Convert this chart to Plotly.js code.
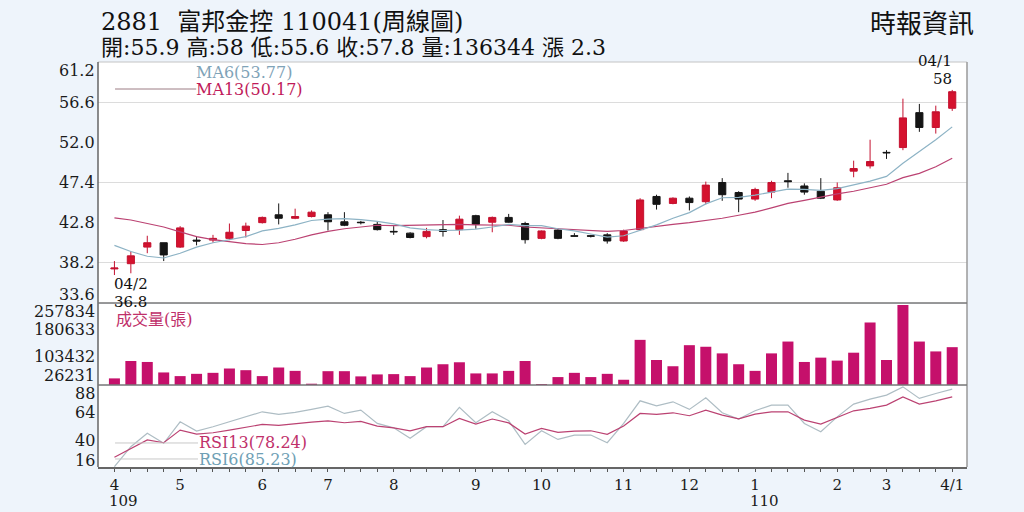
<!DOCTYPE html>
<html><head><meta charset="utf-8">
<script src="https://cdn.plot.ly/plotly-3.0.1.min.js"></script>
<style>html,body{margin:0;padding:0;background:#eef4fb}#chart{width:1024px;height:512px}</style>
</head><body><div id="chart"></div>
<script>
// ---- data (weekly candles) ----
const weeks = ["2020/04/02","2020/04/09","2020/04/16","2020/04/23","2020/04/30","2020/05/07","2020/05/14","2020/05/21","2020/05/28","2020/06/04",
"2020/06/11","2020/06/18","2020/06/25","2020/07/02","2020/07/09","2020/07/16","2020/07/23","2020/07/30","2020/08/06","2020/08/13",
"2020/08/20","2020/08/27","2020/09/03","2020/09/10","2020/09/17","2020/09/24","2020/10/01","2020/10/08","2020/10/15","2020/10/22",
"2020/10/29","2020/11/05","2020/11/12","2020/11/19","2020/11/26","2020/12/03","2020/12/10","2020/12/17","2020/12/24","2020/12/31",
"2021/01/07","2021/01/14","2021/01/21","2021/01/28","2021/02/04","2021/02/18","2021/02/25","2021/03/04","2021/03/11","2021/03/18",
"2021/03/25","2021/04/01"];
const openP  = [37.5,38.1,40.0,40.5,40.0,40.8,40.8,41.0,41.9,42.8,43.7,43.3,43.5,43.7,42.9,42.85,42.6,41.8,41.6,41.2,42.0,42.0,43.6,42.85,43.4,42.7,41.0,41.95,41.3,41.3,41.4,40.7,42.0,45.8,45.0,45.6,45.2,47.4,46.25,45.5,46.3,47.6,47.0,46.4,45.4,48.7,49.3,50.85,51.4,55.4,53.7,55.9];
const highP  = [38.4,39.5,41.3,40.5,42.4,41.2,41.4,42.7,42.8,43.5,45.0,44.4,44.2,44.0,44.0,43.0,42.9,42.4,41.7,42.2,43.1,43.6,43.7,43.5,43.8,42.9,41.9,42.1,41.6,41.4,41.6,42.0,45.6,46.0,45.7,45.8,47.5,47.9,46.4,46.8,47.6,48.5,47.3,47.9,47.4,49.9,52.3,51.1,57.0,56.4,56.2,58.0];
const lowP   = [36.8,37.0,39.3,38.4,39.9,40.2,40.5,40.8,41.1,42.7,42.6,43.2,43.4,41.9,42.4,42.6,41.9,41.4,41.0,41.0,41.2,41.4,42.1,41.7,42.8,40.4,40.9,40.9,41.2,41.1,40.4,40.6,41.9,44.3,44.9,44.2,44.9,45.3,44.0,45.3,45.6,46.8,46.0,45.5,45.3,48.0,49.0,50.1,51.1,53.2,53.0,55.6];
const closeP = [37.6,39.0,40.5,39.1,42.2,40.7,41.0,41.7,42.4,43.4,43.3,43.5,44.0,42.9,42.5,42.8,42.0,41.75,41.1,41.8,41.8,43.2,42.6,43.4,42.85,40.85,41.85,41.0,41.25,41.25,40.7,41.85,45.4,44.9,45.6,45.1,47.1,46.0,45.5,46.6,47.4,47.5,46.3,45.6,46.8,49.0,49.8,50.8,54.8,53.7,55.5,57.8];
const ma6  = [40.2,39.5,38.95,38.75,39.3,40.0,40.5,40.85,41.2,41.85,42.15,42.55,43.05,43.2,43.25,43.15,42.95,42.65,42.2,42.0,41.9,41.95,42.05,42.3,42.6,42.45,42.45,42.1,41.85,41.5,41.15,41.3,41.9,42.55,43.3,43.95,44.95,45.65,45.7,45.95,46.3,46.65,46.6,46.5,46.7,47.15,47.55,48.1,49.6,50.95,52.3,53.77];
const ma13 = [43.35,43.1,42.7,42.3,41.75,41.2,40.85,40.6,40.4,40.3,40.5,40.9,41.4,41.8,42.1,42.3,42.5,42.45,42.5,42.55,42.55,42.6,42.55,42.55,42.5,42.3,42.2,42.1,41.95,41.9,41.8,41.9,42.15,42.4,42.6,42.8,43.05,43.3,43.65,44.0,44.5,45.0,45.35,45.75,46.1,46.4,46.8,47.2,47.95,48.45,49.2,50.17];
const volume = [23800,86500,83000,45200,32000,40200,43800,59400,53400,32000,63000,50900,4600,49800,49800,31000,38100,39200,32000,63000,74800,81900,41700,41700,50900,86500,3600,28500,43800,28500,40200,18900,162700,90100,67600,143500,137800,113900,74800,50900,113900,156600,83000,98600,87900,116400,225300,90100,288400,156600,121000,136344];
const rsi13 = [23.1,31.3,38.9,36.4,47.9,44.3,45.5,47.9,50.4,53.1,52.2,54.0,55.2,56.4,54.6,55.9,51.6,50.0,47.3,51.0,51.0,58.5,53.4,58.0,54.5,44.3,49.5,45.8,47.0,47.3,44.0,51.6,63.1,62.2,63.7,61.0,66.1,61.6,58.2,62.5,64.6,64.6,57.0,53.4,59.4,65.5,67.7,70.7,78.2,71.6,74.6,78.24];
const rsi6  = [14.6,32.8,45.0,35.9,55.5,47.0,51.0,55.5,60.0,64.6,62.2,64.0,66.8,69.8,63.1,66.1,54.0,50.0,40.4,51.0,51.0,68.6,54.6,64.6,56.4,34.9,47.3,39.4,43.4,43.4,36.4,54.0,74.6,70.1,73.7,66.8,77.3,63.7,58.0,65.5,70.7,70.7,54.0,46.4,60.0,71.6,76.1,79.8,87.3,76.8,81.3,85.23];
const monthWeeks  = ["2020/04/02","2020/04/30","2020/06/04","2020/07/02","2020/07/30","2020/09/03","2020/10/01","2020/11/05","2020/12/03","2020/12/31","2021/02/04","2021/03/04","2021/04/01"];
const monthLabels = ["4","5","6","7","8","9","10","11","12","1","2","3","4/1"];
const yearWeeks  = ["2020/04/02","2020/12/31"];
const yearLabels = ["109","110"];
const priceTicks = [61.2,56.6,52.0,47.4,42.8,38.2,33.6];
const priceGrid  = [56.6,47.4,38.2];
const volTicks   = [257834,180633,103432,26231];
const rsiTicks   = [88,64,40,16];
const stockTitle = "2881\u00a0\u00a0富邦金控 110041(周線圖)";
const source = "時報資訊";
const hiDate = "04/1", loDate = "04/2";

// ---- build ----
const SERIF = "DejaVu Serif, Noto Sans CJK TC, serif";
const CJK = "Noto Sans CJK TC, DejaVu Serif, sans-serif";
const n = closeP.length - 1;
const fmt = v => String(Math.round(v*100)/100);
const info = "開:" + fmt(openP[n]) + " 高:" + fmt(highP[n]) + " 低:" + fmt(lowP[n]) + " 收:" + fmt(closeP[n]) +
             " 量:" + volume[n] + " 漲 " + (closeP[n]-closeP[n-1]).toFixed(1);
const hiIdx = highP.indexOf(Math.max(...highP));
const loIdx = lowP.indexOf(Math.min(...lowP));

const traces = [
  {type:'scatter', mode:'lines', x:weeks, y:ma13, line:{color:'#bb4272', width:1.2}, xaxis:'x', yaxis:'y', hoverinfo:'skip'},
  {type:'scatter', mode:'lines', x:weeks, y:ma6, line:{color:'#8db3c5', width:1.2}, xaxis:'x', yaxis:'y', hoverinfo:'skip'},
  {type:'scatter', mode:'lines', x:weeks, y:rsi6, line:{color:'#aebdc4', width:1.2}, xaxis:'x', yaxis:'y3', hoverinfo:'skip'},
  {type:'scatter', mode:'lines', x:weeks, y:rsi13, line:{color:'#bb4272', width:1.2}, xaxis:'x', yaxis:'y3', hoverinfo:'skip'},
  {type:'bar', x:weeks, y:volume, marker:{color:'#c5106b', line:{width:0}}, xaxis:'x', yaxis:'y2', hoverinfo:'skip'},
  {type:'candlestick', x:weeks, open:openP, high:highP, low:lowP, close:closeP, xaxis:'x', yaxis:'y',
   increasing:{line:{color:'#c41230', width:1}, fillcolor:'#d5122e'},
   decreasing:{line:{color:'#151515', width:1}, fillcolor:'#151515'},
   whiskerwidth:0, hoverinfo:'skip'}
];

const ann = [];
function txt(o){ ann.push(Object.assign({showarrow:false, borderpad:0}, o)); }
function ylab(ref, vals, fmtf, nudge){
  vals.forEach(v => txt({xref:'paper', yref:ref, x:0, y:v, xanchor:'right', yanchor:'middle', xshift:-2,
    yshift:(nudge[v]||0), text:fmtf(v), font:{family:SERIF, size:16, color:'#1a1a1a'}}));
}
ylab('y', priceTicks, v => v.toFixed(1), {61.2:-8, 33.6:8});
ylab('y2', volTicks, v => String(v), {257834:1.5, 180633:5, 26231:2});
ylab('y3', rsiTicks, v => String(v), {88:-7, 40:-2, 16:5});

txt({xref:'paper', yref:'paper', x:0, y:1.099, xanchor:'left', yanchor:'middle', xshift:2, text:stockTitle, font:{family:SERIF, size:24, color:'#111'}});
txt({xref:'paper', yref:'paper', x:0, y:1.035, xanchor:'left', yanchor:'middle', xshift:2, text:info, font:{family:SERIF, size:22, color:'#111'}});
txt({xref:'paper', yref:'paper', x:1.009, y:1.099, xanchor:'right', yanchor:'middle', text:source, font:{family:CJK, size:26, color:'#111'}});
txt({xref:'paper', yref:'paper', x:0.1116, y:0.9753, xanchor:'left', yanchor:'middle', text:'MA6(' + ma6[n].toFixed(2) + ')', font:{family:SERIF, size:16, color:'#7fa3b8'}});
txt({xref:'paper', yref:'paper', x:0.1116, y:0.9333, xanchor:'left', yanchor:'middle', text:'MA13(' + ma13[n].toFixed(2) + ')', font:{family:SERIF, size:16, color:'#c01a5a'}});
txt({xref:'paper', yref:'paper', x:0.0196, y:0.363, xanchor:'left', yanchor:'middle', text:'成交量(張)', font:{family:SERIF, size:16, color:'#c0306a'}});
txt({xref:'paper', yref:'paper', x:0.1151, y:0.0593, xanchor:'left', yanchor:'middle', text:'RSI13(' + rsi13[n].toFixed(2) + ')', font:{family:SERIF, size:16, color:'#c0306a'}});
txt({xref:'paper', yref:'paper', x:0.1151, y:0.0183, xanchor:'left', yanchor:'middle', text:'RSI6(' + rsi6[n].toFixed(2) + ')', font:{family:SERIF, size:16, color:'#6f9fb5'}});
// highest / lowest point labels
txt({xref:'x', yref:'y', x:weeks[hiIdx], y:highP[hiIdx], xanchor:'right', yanchor:'bottom', xshift:1, yshift:1,
  text:fmt(highP[hiIdx]), font:{family:SERIF, size:15, color:'#111'}});
txt({xref:'x', yref:'y', x:weeks[hiIdx], y:highP[hiIdx], xanchor:'right', yanchor:'bottom', xshift:1, yshift:19,
  text:hiDate, font:{family:SERIF, size:15, color:'#111'}});
txt({xref:'x', yref:'y', x:weeks[loIdx], y:lowP[loIdx], xanchor:'left', yanchor:'top', xshift:-1, yshift:1,
  text:loDate, font:{family:SERIF, size:15, color:'#111'}});
txt({xref:'x', yref:'y', x:weeks[loIdx], y:lowP[loIdx], xanchor:'left', yanchor:'top', xshift:-1, yshift:-17,
  text:fmt(lowP[loIdx]), font:{family:SERIF, size:15, color:'#111'}});
yearWeeks.forEach((w,i) => txt({xref:'x', yref:'paper', x:w, y:-0.083, xanchor:'left', yanchor:'middle', xshift:-6,
  text:yearLabels[i], font:{family:SERIF, size:15, color:'#1a1a1a'}}));

const tickText = weeks.map(w => { const k = monthWeeks.indexOf(w); return k >= 0 ? monthLabels[k] : ''; });

const shapes = [
  {type:'line', xref:'paper', yref:'paper', x0:0, x1:1, y0:1, y1:1, line:{color:'#c4c4c4', width:1}},
  {type:'line', xref:'paper', yref:'paper', x0:1, x1:1, y0:0, y1:1, line:{color:'#9a9a9a', width:1.5}},
  {type:'line', xref:'paper', yref:'paper', x0:0, x1:0, y0:0, y1:1, line:{color:'#666', width:1.5}},
  {type:'line', xref:'paper', yref:'y domain', x0:0, x1:1, y0:0, y1:0, line:{color:'#777', width:1.5}},
  {type:'line', xref:'paper', yref:'y2 domain', x0:0, x1:1, y0:0, y1:0, line:{color:'#777', width:1.5}},
  {type:'line', xref:'paper', yref:'paper', x0:0.0196, x1:0.113, y0:0.9333, y1:0.9333, line:{color:'#9c7c84', width:1}},
  {type:'line', xref:'paper', yref:'paper', x0:0.0196, x1:0.1151, y0:0.0593, y1:0.0593, line:{color:'#c8c8c8', width:1}},
  {type:'line', xref:'paper', yref:'paper', x0:0.0196, x1:0.1151, y0:0.0198, y1:0.0198, line:{color:'#c8c8c8', width:1}}
];

const layout = {
  width:1024, height:512,
  margin:{l:98, r:57, t:62, b:45, pad:0},
  paper_bgcolor:'#eef4fb', plot_bgcolor:'#ffffff',
  showlegend:false, boxgap:0.38, bargap:0.33,
  xaxis:{type:'category', categoryorder:'array', categoryarray:weeks, range:[-1, 51.9], anchor:'y3',
    tickmode:'array', tickvals:weeks, ticktext:tickText, ticks:'outside', ticklen:3, tickcolor:'#555', tickwidth:1,
    showline:true, linecolor:'#666', linewidth:1.5, showgrid:false, zeroline:false,
    tickfont:{family:SERIF, size:15, color:'#1a1a1a'}, rangeslider:{visible:false}, fixedrange:true},
  yaxis:{domain:[0.405, 1], range:[33.6, 61.2], showticklabels:false, ticks:'', showgrid:false, zeroline:false,
    minor:{tickmode:'array', tickvals:priceGrid, showgrid:true, gridcolor:'#dcdcdc', gridwidth:1}, fixedrange:true},
  yaxis2:{domain:[0.2025, 0.4025], range:[0, 292000], showticklabels:false, ticks:'', showgrid:false, zeroline:false, fixedrange:true},
  yaxis3:{domain:[0, 0.2], range:[14.3, 88.1], showticklabels:false, ticks:'', showgrid:false, zeroline:false, fixedrange:true},
  annotations:ann, shapes:shapes
};

Plotly.newPlot('chart', traces, layout, {staticPlot:true, displayModeBar:false});
</script></body></html>
